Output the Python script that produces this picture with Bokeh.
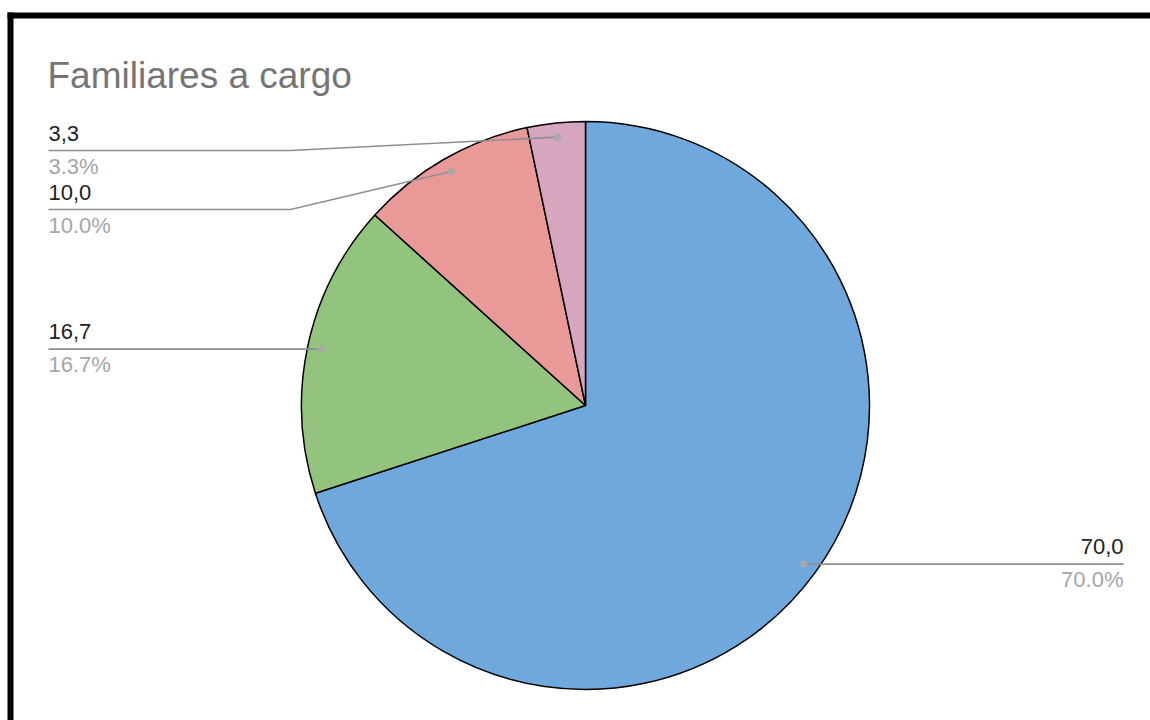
import math
from bokeh.plotting import figure
from bokeh.models import Range1d, ColumnDataSource, Label
from bokeh.core.properties import value
from bokeh.embed import file_html
from bokeh.resources import INLINE

# ---- data ----
chart_title = "Familiares a cargo"
values = [70.0, 16.7, 10.0, 3.3]
colors = ["#6fa8dc", "#93c47d", "#ea9999", "#d5a6bd"]
value_labels = [f"{v:.1f}".replace(".", ",") for v in values]

# ---- layout (screen pixels, y downward) ----
W, H = 1150, 720
CX, CY_S, R = 585, 405, 284
CY = H - CY_S
FONT = "Liberation Sans"
# per slice: side, label line y (None = at dot), elbow x (None = straight)
layout = [
    ("right", None, None),
    ("left", None, None),
    ("left", 209, 290),
    ("left", 150, 290),
]
LEFT_X, RIGHT_X = 48, 1123
TXT_SHIFT = 9.5

p = figure(width=W, height=H, x_range=Range1d(0, W), y_range=Range1d(0, H),
           x_axis_type=None, y_axis_type=None, output_backend="svg",
           toolbar_location=None, min_border=0, outline_line_color=None,
           background_fill_color="white", border_fill_color="white")
p.grid.visible = False

total = sum(values)
starts, ends, mids = [], [], []
cum = 0.0
for v in values:
    a0 = math.pi / 2 - 2 * math.pi * cum / total
    cum += v
    a1 = math.pi / 2 - 2 * math.pi * cum / total
    starts.append(a0)
    ends.append(a1)
    mids.append((a0 + a1) / 2)

src = ColumnDataSource(dict(start=starts, end=ends, color=colors))
p.wedge(x=CX, y=CY, radius=R, start_angle="start", end_angle="end",
        direction="clock", fill_color="color", line_color="black",
        line_width=1.5, source=src)

# leader lines, dots and labels
dx, dy = [], []
vx, vy, vt, va = [], [], [], []
px, py, pt, pa = [], [], [], []
for i, v in enumerate(values):
    side, ly, ex = layout[i]
    x0 = CX + 0.95 * R * math.cos(mids[i])
    y0 = CY + 0.95 * R * math.sin(mids[i])
    dx.append(x0)
    dy.append(y0)
    line_y = y0 if ly is None else H - ly
    end_x = LEFT_X if side == "left" else RIGHT_X
    if ex is None:
        xs, ys = [x0, end_x], [y0, y0]
    else:
        xs, ys = [x0, ex, end_x], [y0, line_y, line_y]
    p.line(xs, ys, line_color="#8f8f8f", line_width=1.6)
    vx.append(end_x); vy.append(line_y + 8 + TXT_SHIFT); vt.append(value_labels[i])
    px.append(end_x); py.append(line_y - 25 + TXT_SHIFT)
    pt.append(f"{v / total * 100:.1f}%")
    a = "left" if side == "left" else "right"
    va.append(a); pa.append(a)

p.scatter(dx, dy, size=7, fill_color="#a8a8a8", line_color=None)

p.text(x=vx, y=vy, text=vt, text_align=va, text_baseline="alphabetic",
       text_font=value(FONT), text_font_size="22px", text_color="#222222")
p.text(x=px, y=py, text=pt, text_align=pa, text_baseline="alphabetic",
       text_font=value(FONT), text_font_size="22px", text_color="#a6a6a6")

# title
p.add_layout(Label(x=47, y=H - 75, text=chart_title, text_font=FONT,
                   text_font_size="37px", text_color="#757575",
                   text_baseline="alphabetic"))

# black frame (top and left edges visible)
p.quad(left=[7, 7], right=[W + 10, 13], top=[H - 12, H - 12],
       bottom=[H - 18, -10], fill_color="black", line_color=None)

open("out.html", "w").write(file_html(p, INLINE))
